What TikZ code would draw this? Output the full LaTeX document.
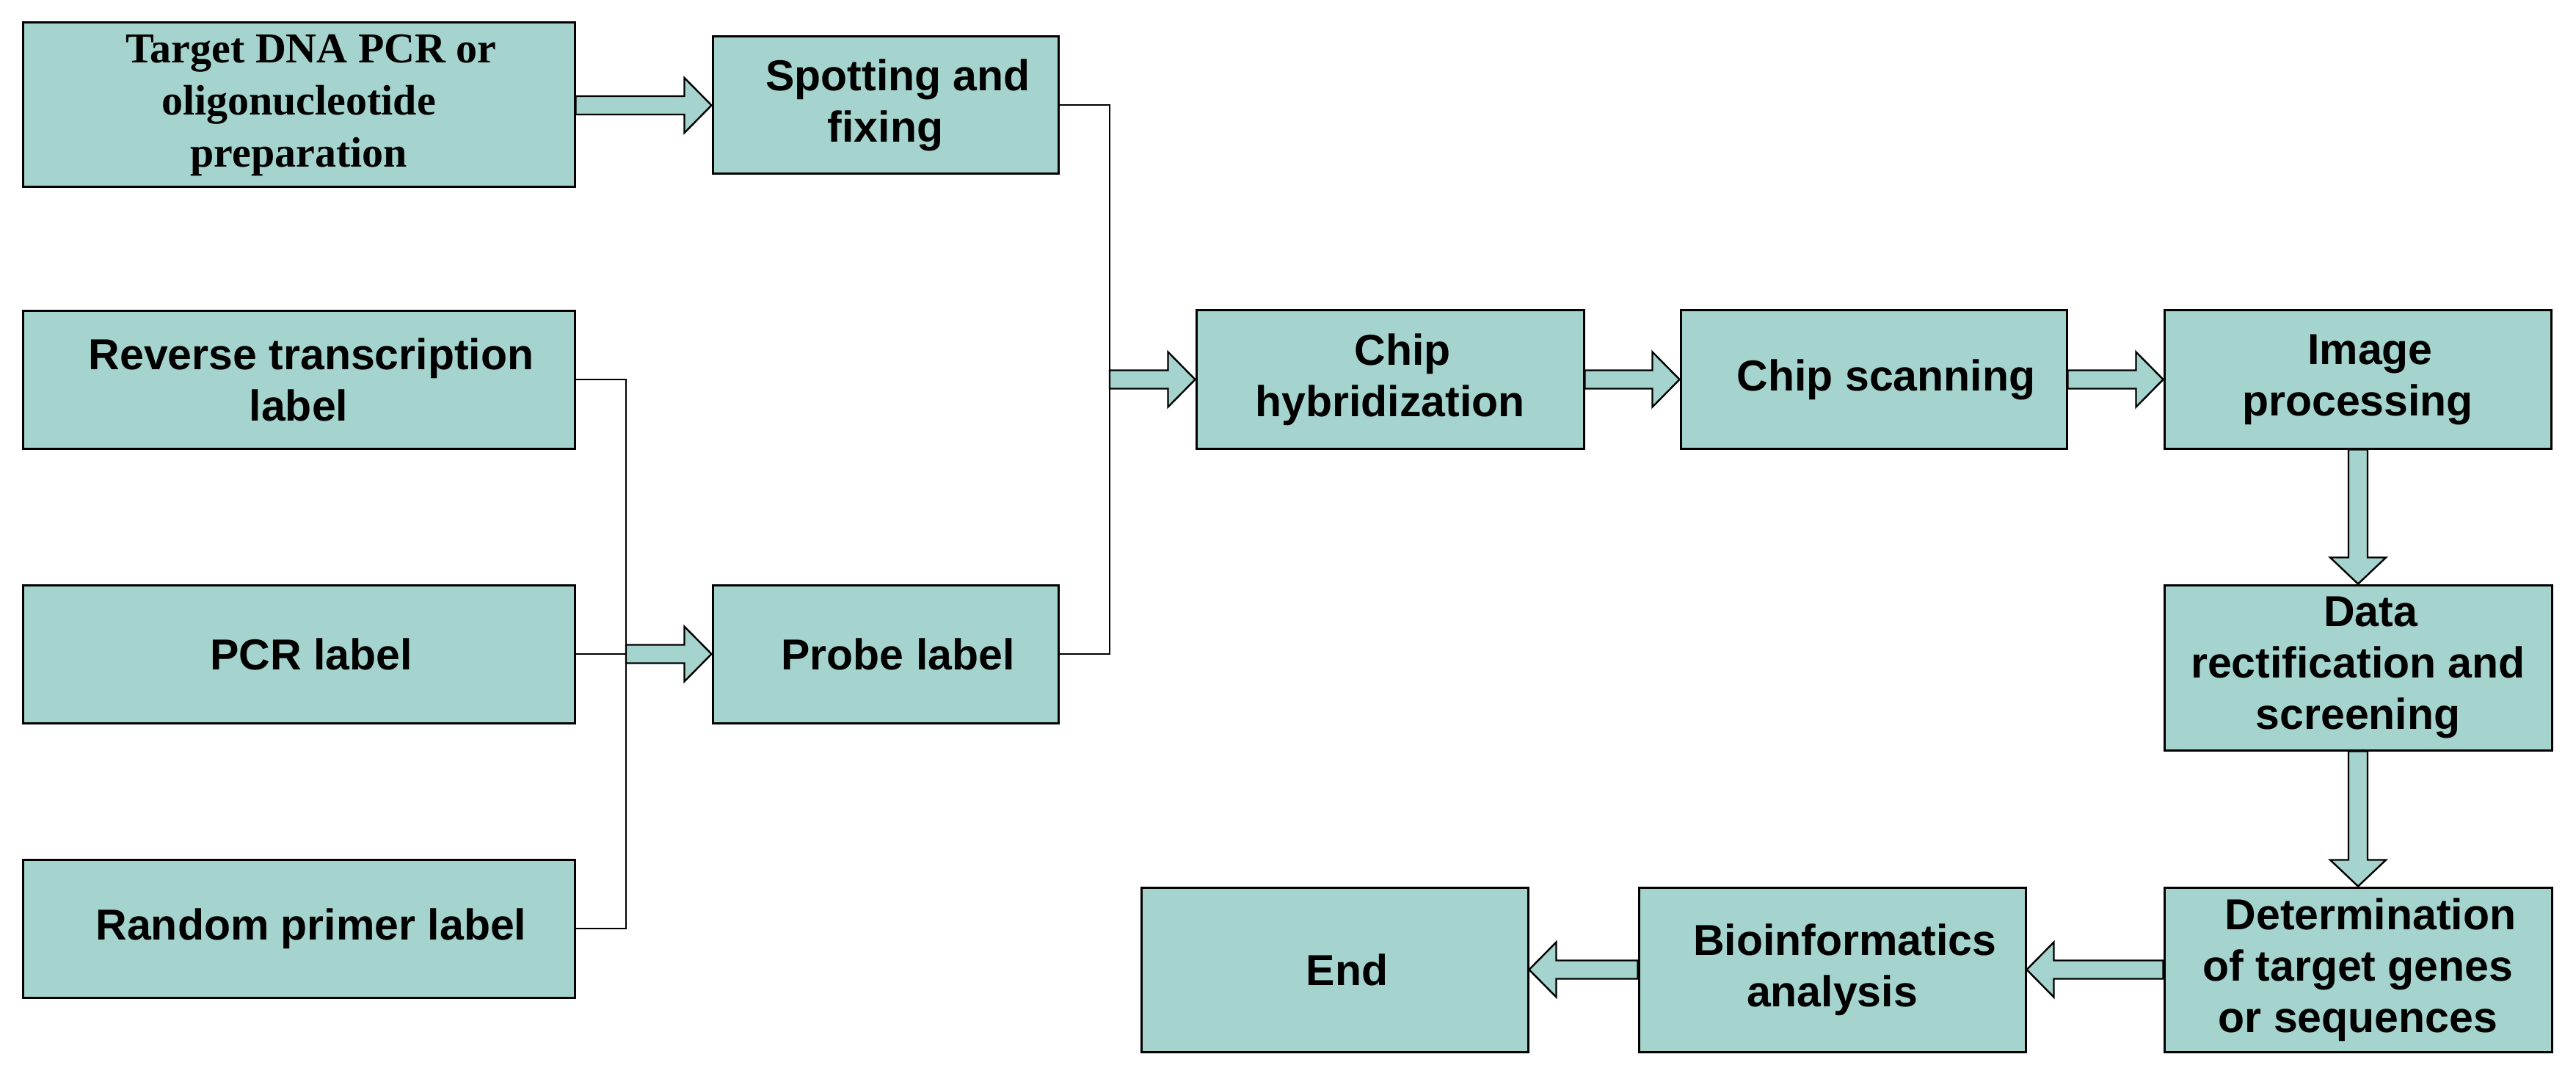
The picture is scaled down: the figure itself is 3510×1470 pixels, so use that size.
\documentclass[tikz,border=0pt]{standalone}
\usepackage{fontspec}
\setmainfont{Liberation Sans}
\newfontfamily\serifb{Liberation Serif}
\usetikzlibrary{calc}
\definecolor{boxfill}{RGB}{164,212,205}
\newcommand\rarr[2]{\path[blk] let \p1=(#1), \p2=(#2) in (\x1,\y2+6.25pt) -- (\x2-18.5pt,\y2+6.25pt) -- (\x2-18.5pt,\y2+18.75pt) -- (\x2,\y2) -- (\x2-18.5pt,\y2-18.75pt) -- (\x2-18.5pt,\y2-6.25pt) -- (\x1,\y2-6.25pt) -- cycle;}
\newcommand\larr[2]{\path[blk] let \p1=(#1), \p2=(#2) in (\x1,\y2+6.25pt) -- (\x2+18.5pt,\y2+6.25pt) -- (\x2+18.5pt,\y2+18.75pt) -- (\x2,\y2) -- (\x2+18.5pt,\y2-18.75pt) -- (\x2+18.5pt,\y2-6.25pt) -- (\x1,\y2-6.25pt) -- cycle;}
\newcommand\darr[2]{\path[blk] let \p1=(#1), \p2=(#2) in (\x2-6.5pt,\y1) -- (\x2-6.5pt,\y2+18pt) -- (\x2-19pt,\y2+18pt) -- (\x2,\y2) -- (\x2+19pt,\y2+18pt) -- (\x2+6.5pt,\y2+18pt) -- (\x2+6.5pt,\y1) -- cycle;}
\newcommand\ind{\hspace*{17pt}}
\begin{document}
\begin{tikzpicture}[x=0.5pt,y=-0.5pt,
  box/.style={draw=black, line width=1.5pt, fill=boxfill, inner sep=0pt, align=center,
    font=\fontsize{29.5}{35}\selectfont\bfseries},
  conn/.style={draw=black, line width=1pt},
  blk/.style={draw=black, fill=boxfill, line width=1.2pt, line join=miter}]
\useasboundingbox[fill=white] (0,0) rectangle (3510,1470);

% left column
\node[box, minimum width=376pt, minimum height=112pt,
  font=\fontsize{29}{35.5}\selectfont\serifb\bfseries] (tgt) at (407,143)
  {\ind Target DNA PCR or\\oligonucleotide\\preparation};
\node[box, minimum width=376pt, minimum height=93.5pt] (rev) at (407,517.5)
  {\ind Reverse transcription\\label};
\node[box, minimum width=376pt, minimum height=94pt] (pcr) at (407,891) {\ind PCR label};
\node[box, minimum width=376pt, minimum height=94pt] (rnd) at (407,1265) {\ind Random primer label};

% second column
\node[box, minimum width=235.5pt, minimum height=93.5pt] (spot) at (1206.5,143.5)
  {\ind Spotting and\\fixing};
\node[box, minimum width=235.5pt, minimum height=94pt] (probe) at (1206.5,891) {\ind Probe label};

% top row
\node[box, minimum width=264pt, minimum height=94pt] (hyb) at (1894,517)
  {\ind Chip\\hybridization};
\node[box, minimum width=263pt, minimum height=94pt] (scan) at (2553,517) {\ind Chip scanning};
\node[box, minimum width=263.5pt, minimum height=94pt] (img) at (3212.5,517)
  {\ind Image\\processing};

% right column
\node[box, minimum width=264pt, minimum height=112.5pt] (data) at (3213,909.5)
  {\ind Data\\rectification and\\screening};
\node[box, minimum width=264pt, minimum height=112pt] (det) at (3213,1321)
  {\ind Determination\\of target genes\\or sequences};

% bottom row
\node[box, minimum width=263.5pt, minimum height=112pt] (bio) at (2496.5,1321)
  {\ind Bioinformatics\\analysis};
\node[box, minimum width=263.5pt, minimum height=112pt] (end) at (1818.5,1321) {\ind End};

% junctions
\coordinate (jl) at (853,891);
\coordinate (jr) at (1512,517);

% thin connectors
\draw[conn] (rev.east) -| (jl);
\draw[conn] (rnd.east) -| (jl);
\draw[conn] (pcr.east) -- (jl);
\draw[conn] (spot.east) -| (jr);
\draw[conn] (probe.east) -| (jr);

% block arrows
\rarr{tgt.east}{spot.west}
\rarr{jl}{probe.west}
\rarr{jr}{hyb.west}
\rarr{hyb.east}{scan.west}
\rarr{scan.east}{img.west}
\darr{img.south}{data.north}
\darr{data.south}{det.north}
\larr{det.west}{bio.east}
\larr{bio.west}{end.east}
\end{tikzpicture}
\end{document}
